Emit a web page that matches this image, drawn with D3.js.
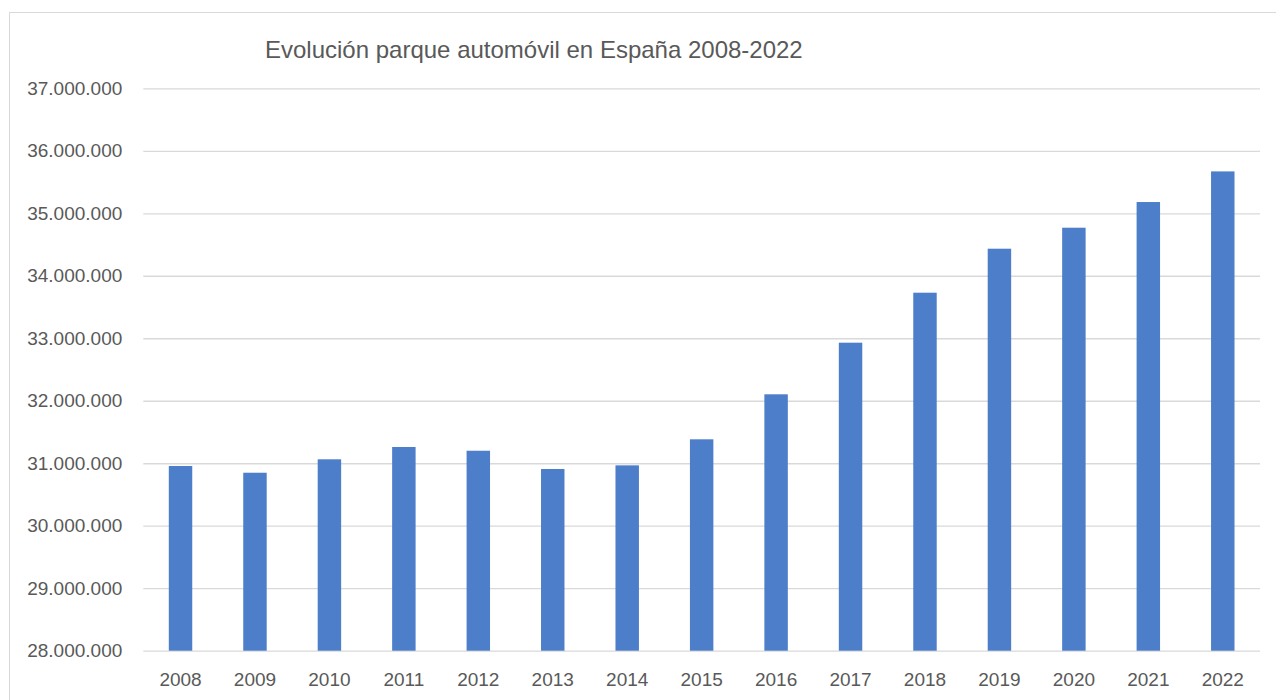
<!DOCTYPE html>
<html>
<head>
<meta charset="utf-8">
<script src="https://cdn.jsdelivr.net/npm/d3@7/dist/d3.min.js"></script>
<style>
  html, body { margin: 0; padding: 0; background: #ffffff; }
  svg { display: block; }
  text { font-family: "Liberation Sans", Arial, sans-serif; fill: #595959; }
</style>
</head>
<body>
<svg id="chart" width="1276" height="700"></svg>
<script>
const title = "Evolución parque automóvil en España 2008-2022";
const years = ["2008","2009","2010","2011","2012","2013","2014","2015","2016","2017","2018","2019","2020","2021","2022"];
const vehicles = [30956000, 30848000, 31063000, 31260000, 31200000, 30908000, 30966000, 31383000, 32103000, 32929000, 33729000, 34433000, 34769000, 35180000, 35670000];
const yTicks = [28000000, 29000000, 30000000, 31000000, 32000000, 33000000, 34000000, 35000000, 36000000, 37000000];

const svg = d3.select("#chart");
const plot = { left: 143.3, right: 1260, top: 88.3, bottom: 650.7 };

// chart border
svg.append("rect")
  .attr("x", 9.5).attr("y", 12.5)
  .attr("width", 1290).attr("height", 720)
  .attr("fill", "#ffffff")
  .attr("stroke", "#d9d9d9").attr("stroke-width", 1);

const x = d3.scaleBand()
  .domain(years)
  .range([plot.left, plot.right])
  .paddingInner(0.685)
  .paddingOuter(0.3425);

const y = d3.scaleLinear()
  .domain([28000000, 37000000])
  .range([plot.bottom, plot.top]);

const fmt = v => d3.format(",")(v).replace(/,/g, ".");

// gridlines + y labels via axis
const yAxis = d3.axisLeft(y)
  .tickValues(yTicks)
  .tickSize(-(plot.right - plot.left))
  .tickPadding(20)
  .tickFormat(fmt);

const gy = svg.append("g")
  .attr("transform", `translate(${plot.left},0)`)
  .call(yAxis);
gy.select(".domain").remove();
gy.selectAll(".tick line")
  .attr("stroke", "#d9d9d9")
  .attr("stroke-width", 1.3);
gy.selectAll(".tick text")
  .attr("x", -21)
  .style("font-size", "19px")
  .style("fill", "#595959");

// bars
svg.append("g")
  .selectAll("rect")
  .data(years.map((yr, i) => ({ yr, v: vehicles[i] })))
  .join("rect")
  .attr("x", d => x(d.yr))
  .attr("y", d => y(d.v))
  .attr("width", x.bandwidth())
  .attr("height", d => y(28000000) - y(d.v))
  .attr("fill", "#4d7ec9");

// x axis labels
const xAxis = d3.axisBottom(x).tickSize(0).tickPadding(22);
const gx = svg.append("g")
  .attr("transform", `translate(0,${plot.bottom})`)
  .call(xAxis);
gx.select(".domain").remove();
gx.selectAll(".tick text")
  .style("font-size", "19px")
  .style("fill", "#595959");

// title
svg.append("text")
  .attr("x", 265)
  .attr("y", 58.3)
  .attr("text-anchor", "start")
  .style("font-size", "24px")
  .style("fill", "#595959")
  .text(title);
</script>
</body>
</html>
